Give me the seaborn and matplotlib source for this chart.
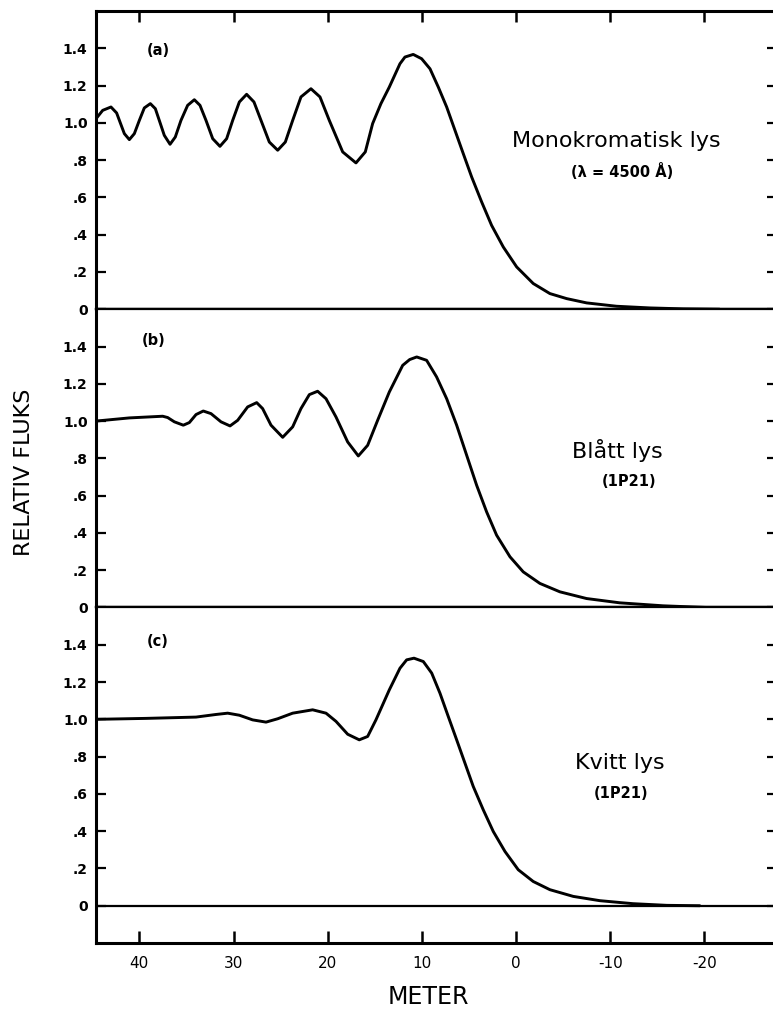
import matplotlib
matplotlib.use("Agg")
import matplotlib.pyplot as plt
import numpy as np
import pandas as pd
import seaborn as sns

sns.set_theme(style="ticks")
plt.rcParams['font.family'] = ['DejaVu Sans']
plt.rcParams.update({"text.color": "black", "axes.labelcolor": "black",
                     "xtick.color": "black", "ytick.color": "black",
                     "axes.edgecolor": "black", "lines.solid_joinstyle": "round"})

# ---- data ----
x_a = [44.60, 43.89, 43.01, 42.41, 42.05, 41.59, 41.06, 40.53, 40.00, 39.47, 38.83, 38.30,
       37.88, 37.35, 36.74, 36.18, 35.58, 34.87, 34.16, 33.56, 32.92, 32.21, 31.44, 30.73,
       30.09, 29.38, 28.61, 27.83, 27.08, 26.20, 25.31, 24.50, 23.72, 22.84, 21.78, 20.82,
       19.83, 18.41, 17.00, 16.01, 15.23, 14.35, 13.46, 12.33, 11.80, 10.92, 10.03, 9.14,
       8.26, 7.37, 6.49, 5.61, 4.72, 3.66, 2.60, 1.36, -0.06, -1.82, -3.59, -5.37, -7.49,
       -10.67, -14.2, -17.75, -21.6]
y_a = [1.022, 1.067, 1.085, 1.053, 1.004, 0.942, 0.910, 0.942, 1.013, 1.080, 1.103, 1.076,
       1.013, 0.933, 0.885, 0.924, 1.013, 1.094, 1.124, 1.094, 1.013, 0.915, 0.874, 0.915,
       1.013, 1.112, 1.153, 1.112, 1.013, 0.897, 0.853, 0.897, 1.013, 1.139, 1.183, 1.139,
       1.013, 0.844, 0.785, 0.844, 0.996, 1.103, 1.192, 1.317, 1.353, 1.367, 1.344, 1.290,
       1.192, 1.085, 0.960, 0.835, 0.710, 0.576, 0.450, 0.334, 0.227, 0.138, 0.084, 0.057, 0.034,
       0.016, 0.007, 0.002, 0.0]

x_b = [44.60, 41.06, 37.52, 36.99, 36.28, 35.33, 34.69, 33.98, 33.21, 32.39, 31.33, 30.37,
       29.56, 28.50, 27.54, 26.91, 26.02, 24.78, 23.72, 22.84, 21.95, 21.07, 20.18, 19.12,
       17.88, 16.75, 15.76, 14.70, 13.46, 12.04, 11.30, 10.55, 9.50, 8.44, 7.37, 6.31, 5.25,
       4.19, 3.13, 2.07, 0.65, -0.76, -2.53, -4.65, -7.48, -11.0, -15.6, -20.2]
y_b = [1.000, 1.017, 1.026, 1.019, 0.996, 0.978, 0.992, 1.035, 1.054, 1.040, 0.996, 0.974,
       1.004, 1.076, 1.099, 1.067, 0.978, 0.913, 0.969, 1.067, 1.142, 1.160, 1.120, 1.022,
       0.888, 0.813, 0.870, 1.004, 1.156, 1.299, 1.330, 1.344, 1.326, 1.237, 1.120, 0.978, 0.817,
       0.656, 0.513, 0.388, 0.272, 0.191, 0.129, 0.084, 0.048, 0.025, 0.009, 0.0]

x_c = [44.60, 39.29, 33.98, 31.86, 30.62, 29.38, 27.97, 26.55, 25.31, 23.72, 21.60, 20.18,
       19.12, 17.88, 16.65, 15.76, 14.88, 13.46, 12.33, 11.62, 10.84, 9.85, 8.96, 8.08, 7.20,
       6.31, 5.43, 4.55, 3.49, 2.42, 1.18, -0.23, -1.82, -3.59, -6.07, -8.90, -12.4, -16.0,
       -19.5]
y_c = [1.000, 1.005, 1.012, 1.026, 1.033, 1.022, 0.997, 0.985, 1.003, 1.033, 1.051, 1.033,
       0.989, 0.920, 0.890, 0.908, 0.997, 1.158, 1.274, 1.319, 1.328, 1.310, 1.248, 1.140, 1.015,
       0.890, 0.765, 0.640, 0.515, 0.398, 0.291, 0.193, 0.130, 0.086, 0.050, 0.027, 0.011, 0.002,
       0.0]

xticks = [40, 30, 20, 10, 0, -10, -20]
xtick_labels = ["40", "30", "20", "10", "0", "-10", "-20"]
yticks = [0, 0.2, 0.4, 0.6, 0.8, 1.0, 1.2, 1.4]
ytick_labels = ["0", ".2", ".4", ".6", ".8", "1.0", "1.2", "1.4"]
panel_tags = ["(a)", "(b)", "(c)"]
light_names = ["Monokromatisk lys", "Blått lys", "Kvitt lys"]
light_subs = ["(λ = 4500 Å)", "(1P21)", "(1P21)"]

# ---- layout ----
W, H = 773, 1015
fig = plt.figure(figsize=(W / 100, H / 100), dpi=100)
gs = fig.add_gridspec(3, 1, height_ratios=[1.6, 1.6, 1.8], hspace=0,
                      left=96 / W, right=777 / W, top=1 - 11 / H, bottom=1 - 943 / H)
axes = [fig.add_subplot(gs[i]) for i in range(3)]

series = [(x_a, y_a), (x_b, y_b), (x_c, y_c)]
ylims = [(0, 1.6), (0, 1.6), (-0.2, 1.6)]
tag_pos = [(38.0, 1.39), (38.5, 1.43), (38.0, 1.415)]
name_pos = [(-10.6, 0.90), (-10.8, 0.843), (-11.0, 0.767)]
sub_pos = [(-11.3, 0.74), (-12.0, 0.674), (-11.1, 0.604)]

for i, ax in enumerate(axes):
    xs, ys = series[i]
    df = pd.DataFrame({"meter": xs, "fluks": ys})
    sns.lineplot(data=df, x="meter", y="fluks", ax=ax, color="black",
                 linewidth=2.1, sort=False, estimator=None)
    ax.axhline(0, color="black", linewidth=1.6, zorder=1)
    ax.set_xlim(44.6, -27.7)
    ax.set_ylim(*ylims[i])
    ax.set_xlabel("")
    ax.set_ylabel("")
    ax.set_yticks(yticks)
    ax.set_yticklabels(ytick_labels, fontsize=10, fontweight="bold")
    ax.tick_params(axis="y", direction="in", left=True, right=True, length=7,
                   width=1.6, pad=6, colors="black")
    ax.set_xticks(xticks)
    ax.spines["right"].set_visible(False)
    ax.spines["left"].set_linewidth(2.2)
    ax.spines["top"].set_linewidth(1.6)
    ax.spines["bottom"].set_linewidth(1.6)
    for s in ax.spines.values():
        s.set_color("black")

    ax.text(*tag_pos[i], panel_tags[i], ha="center", va="center",
            fontsize=10.5, fontweight="bold", color="black")
    ax.text(*name_pos[i], light_names[i], ha="center", va="center", fontsize=16,
            color="black")
    ax.text(*sub_pos[i], light_subs[i], ha="center", va="center",
            fontsize=10.5, fontweight="bold", color="black")

axes[0].spines["top"].set_linewidth(2.2)
axes[0].tick_params(axis="x", top=True, bottom=False, labeltop=False, labelbottom=False,
                    direction="in", length=8, width=1.8)
axes[1].tick_params(axis="x", top=False, bottom=False, labeltop=False, labelbottom=False)
axes[2].spines["bottom"].set_linewidth(2.2)
axes[2].set_xticklabels(xtick_labels, fontsize=11)
axes[2].tick_params(axis="x", top=False, bottom=True, labelbottom=True,
                    direction="in", length=9, width=1.8, pad=9, colors="black")

fig.text(24 / W, 1 - 472 / H, "RELATIV FLUKS", rotation=90, ha="center", va="center",
         fontsize=16, color="black")
fig.text(428 / W, 1 - 997 / H, "METER", ha="center", va="center", fontsize=17,
         color="black")

fig.savefig("out.png", dpi=100)
